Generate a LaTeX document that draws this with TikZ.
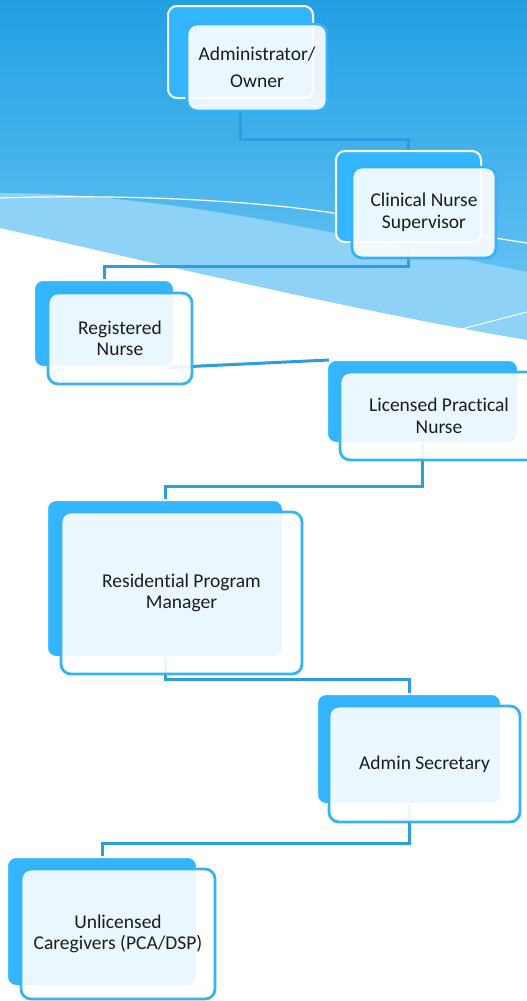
\documentclass[tikz,border=0pt]{standalone}
\usepackage{fontspec}
\setmainfont{Carlito}[Ligatures=NoCommon]
\usetikzlibrary{calc}
\definecolor{bk}{HTML}{33B6FF}
\definecolor{fb}{HTML}{36B2F7}
\definecolor{conn}{HTML}{2C9DE3}
\definecolor{txt}{HTML}{1C1C1C}
\definecolor{topblue}{HTML}{21A0E3}
\definecolor{midblue}{HTML}{60C0F3}
\definecolor{band}{HTML}{8ED2F8}
\tikzset{
  backbox/.style={rectangle, rounded corners=9pt, fill=bk, draw=white, line width=2pt, inner sep=0pt},
  frontbox/.style={rectangle, rounded corners=10pt, fill=white, fill opacity=0.9, text opacity=1,
     draw=fb, line width=2.8pt, inner sep=0pt, align=center, text=txt,
     font=\fontsize{19.5}{21.5}\selectfont},
  link/.style={draw=conn, line width=3pt}
}
\begin{document}
\begin{tikzpicture}[x=1pt,y=-1pt]
\useasboundingbox (0,0) rectangle (527,1001);
% background
\fill[white] (0,0) rectangle (527,1001);
\fill[band] (0,0) -- (527,0) -- (527,340) .. controls (350,310) and (150,262) .. (0,228) -- cycle;
\shade[top color=topblue, bottom color=midblue] (0,0) -- (527,0) -- (527,272) .. controls (300,225) and (150,193) .. (0,193) -- cycle;
\draw[white, line width=1.2pt] (0,198) .. controls (120,194) and (250,200) .. (333,213) .. controls (420,225) and (480,236) .. (527,243);
\draw[white, line width=1pt] (458,330) -- (527,312);
% back boxes
\node[backbox, minimum width=145, minimum height=92] (b1) at (240.5,52) {};
\node[backbox, minimum width=145, minimum height=91] (b2) at (408.5,196.5) {};
\node[backbox, minimum width=140, minimum height=87] (b3) at (104,323.5) {};
\node[backbox, minimum width=191, minimum height=83] (b4) at (422.5,401.5) {};
\node[backbox, minimum width=236, minimum height=157] (b5) at (165,578.5) {};
\node[backbox, minimum width=184, minimum height=110] (b6) at (409,749) {};
\node[backbox, minimum width=190, minimum height=129] (b7) at (102,921.5) {};
% connectors
\coordinate (c3a) at ($(b3.south east)+(-6,-0.5)$);
\coordinate (c3b) at ($(b4.north west)+(3,1)$);
\path[link] (b1.south) -- ++(0,40) -| (b2.north);
\path[link] (b2.south) -- ++(0,23) -| (b3.north);
\path[link] (c3a) -- (c3b);
\path[link] (b4.south) -- ++(0,42) -| (b5.north);
\path[link] (b5.south) -- ++(0,21) -| (b6.north);
\path[link] (b6.south) -- ++(0,38) -| (b7.north);
% front boxes
\node[frontbox, minimum width=140, minimum height=87] (f1) at (257,67.5) {Administrator/\\[6pt]Owner};
\node[frontbox, minimum width=144, minimum height=91] (f2) at (424,212.5) {Clinical Nurse\\Supervisor};
\node[frontbox, minimum width=144, minimum height=91] (f3) at (120,338.5) {Registered\\Nurse};
\node[frontbox, minimum width=198, minimum height=88] (f4) at (439,416) {Licensed Practical\\Nurse};
\node[frontbox, minimum width=241, minimum height=162] (f5) at (181.5,593) {Residential Program\\Manager};
\node[frontbox, minimum width=191, minimum height=116] (f6) at (424.5,764) {Admin Secretary};
\node[frontbox, minimum width=194, minimum height=130] (f7) at (118,934) {Unlicensed\\Caregivers (PCA/DSP)};
\end{tikzpicture}
\end{document}
